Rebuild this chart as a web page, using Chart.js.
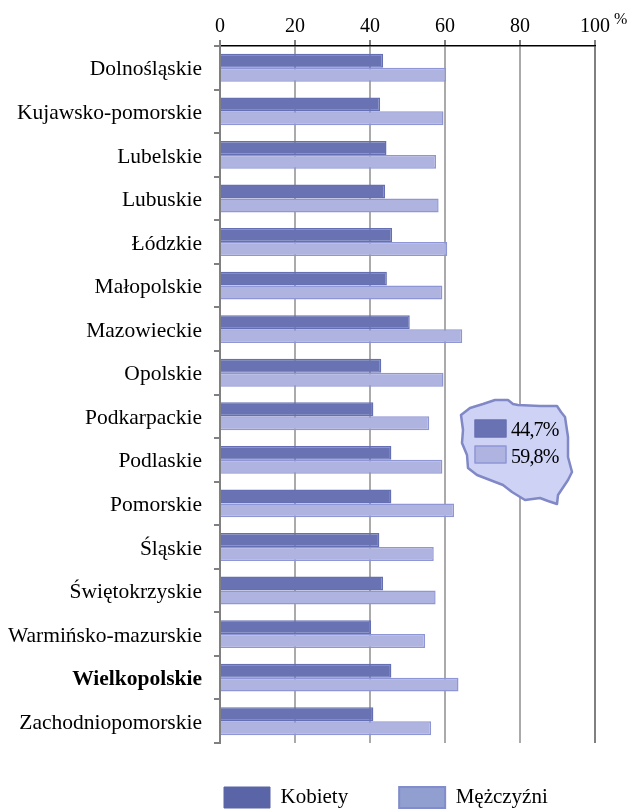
<!DOCTYPE html>
<html>
<head>
<meta charset="utf-8">
<script src="https://cdn.jsdelivr.net/npm/chart.js"></script>
<style>
  html, body { margin: 0; padding: 0; background: #fff; }
  canvas { display: block; }
</style>
</head>
<body>
<canvas id="myChart" width="630" height="809"></canvas>
<script>
const categories = ["Dolnośląskie", "Kujawsko-pomorskie", "Lubelskie", "Lubuskie", "Łódzkie", "Małopolskie", "Mazowieckie", "Opolskie", "Podkarpackie", "Podlaskie", "Pomorskie", "Śląskie", "Świętokrzyskie", "Warmińsko-mazurskie", "Wielkopolskie", "Zachodniopomorskie"];
const kobiety = [43.5, 42.7, 44.4, 44, 45.9, 44.5, 50.6, 43, 40.9, 45.7, 45.7, 42.5, 43.5, 40.3, 45.7, 40.9];
const mezczyzni = [60.3, 59.6, 57.6, 58.3, 60.6, 59.3, 64.6, 59.6, 55.8, 59.3, 62.4, 57, 57.5, 54.7, 63.6, 56.3];
const nationalLabels = ["44,7%", "59,8%"];
const seriesNames = ["Kobiety", "Mężczyźni"];

const serif = '"Liberation Serif", serif';

// outline of Poland behind the national figures, canvas pixels
const mapOutline = [[461,415],[470,408],[483,404],[495,400],[508,400],[513,404],[518,405],[540,406],[557,406],[561,412],[565,417],[568,437],[568,457],[572,472],[568,480],[558,495],[557,504],[548,501],[540,498],[525,500],[512,492],[503,485],[490,480],[477,475],[468,468],[467,455],[462,443],[463,430]];

const insetPlugin = {
    id: 'inset',
    afterLayout(chart) {
        // legend sits under the plot, left edge at the first swatch
        chart.legend.left = 173;
        chart.legend.right = 630;
        chart.legend.top = 736;
    },
    afterDatasetsDraw(chart) {
        const c = chart.ctx;
        c.save();
        c.beginPath();
        mapOutline.forEach((p, i) => i ? c.lineTo(p[0], p[1]) : c.moveTo(p[0], p[1]));
        c.closePath();
        c.fillStyle = '#ced3f6';
        c.strokeStyle = '#8088c6';
        c.lineWidth = 2.5;
        c.lineJoin = 'round';
        c.fill();
        c.stroke();

        c.lineWidth = 1.5;
        c.fillStyle = '#6973b4';
        c.strokeStyle = '#6570b2';
        c.fillRect(475, 420, 31, 17);
        c.strokeRect(475, 420, 31, 17);
        c.fillStyle = '#aeb3e0';
        c.strokeStyle = '#8f96d6';
        c.fillRect(475, 446, 31, 17);
        c.strokeRect(475, 446, 31, 17);

        c.fillStyle = '#000';
        c.font = '20px ' + serif;
        c.textBaseline = 'middle';
        c.letterSpacing = '-0.8px';
        c.fillText(nationalLabels[0], 511, 431);
        c.fillText(nationalLabels[1], 511, 458);
        c.letterSpacing = '0px';

        c.font = '16px ' + serif;
        c.fillText('%', 614, 20);
        c.restore();
    }
};

let myChart = document.getElementById("myChart").getContext("2d");
let barChart = new Chart(myChart, {
    type: 'bar',
    plugins: [insetPlugin],
    data: {
        labels: categories,
        datasets: [{
            label: seriesNames[0],
            data: kobiety,
            backgroundColor: '#6973b4',
            borderColor: '#6570b4',
            borderWidth: 1.5,
            categoryPercentage: 0.64,
            barPercentage: 1
        }, {
            label: seriesNames[1],
            data: mezczyzni,
            backgroundColor: '#aeb3e0',
            borderColor: '#8f96d6',
            borderWidth: 1.5,
            categoryPercentage: 0.64,
            barPercentage: 1
        }]
    },
    options: {
        indexAxis: 'y',
        responsive: false,
        animation: false,
        layout: { padding: { top: 8, right: 35, bottom: -16, left: 8 } },
        plugins: {
            tooltip: { enabled: false },
            legend: {
                position: 'bottom',
                align: 'start',
                labels: {
                    boxWidth: 46,
                    boxHeight: 21,
                    padding: 51,
                    color: '#000',
                    font: { family: serif, size: 21 },
                    generateLabels: () => [
                        { text: seriesNames[0], fillStyle: '#5a65a8', strokeStyle: '#5a65a8', lineWidth: 1, datasetIndex: 0 },
                        { text: seriesNames[1], fillStyle: '#909fd0', strokeStyle: '#808ccb', lineWidth: 2, datasetIndex: 1 }
                    ]
                }
            }
        },
        scales: {
            x: {
                position: 'top',
                min: 0,
                max: 100,
                ticks: {
                    stepSize: 20,
                    maxRotation: 0,
                    color: '#000',
                    padding: 1,
                    font: { family: serif, size: 20 }
                },
                border: { color: '#000', width: 1.5 },
                grid: {
                    color: ctx => ctx.index === 5 ? '#808080' : '#aaaaaa',
                    lineWidth: 2,
                    tickColor: '#000',
                    tickLength: 6,
                    tickWidth: 1
                },
                afterFit(scale) { scale.height = 38; }
            },
            y: {
                ticks: {
                    color: '#000',
                    padding: 12,
                    labelOffset: 2,
                    font: ctx => ({
                        family: serif,
                        size: 21.5,
                        weight: categories[ctx.index] === 'Wielkopolskie' ? 'bold' : 'normal'
                    })
                },
                border: { color: '#808080', width: 2 },
                grid: {
                    offset: true,
                    tickLength: 6,
                    tickColor: '#808080',
                    lineWidth: 2,
                    // only the closing line along the bottom of the plot
                    color: ctx => ctx.index === categories.length ? '#808080' : 'rgba(0,0,0,0)'
                },
                afterFit(scale) { scale.width = 212; }
            }
        }
    }
});
</script>
</body>
</html>
